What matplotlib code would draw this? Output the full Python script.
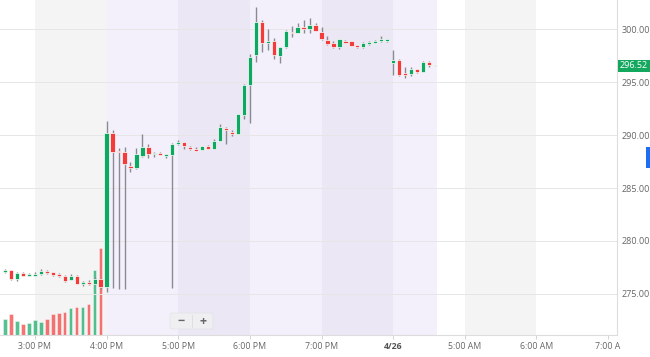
import matplotlib
matplotlib.use("Agg")
import matplotlib.pyplot as plt
from matplotlib.patches import Rectangle, FancyBboxPatch

plt.rcParams['font.family'] = ['Open Sans', 'DejaVu Sans']

# 5 minute candles, regular session end (2:35 PM - 3:55 PM)
reg_times = ["14:35", "14:40", "14:45", "14:50", "14:55", "15:00", "15:05", "15:10", "15:15",
             "15:20", "15:25", "15:30", "15:35", "15:40", "15:45", "15:50", "15:55"]
reg_open = [277.05, 277.26, 276.42, 277.00, 276.70, 276.73, 276.86, 277.17, 277.07,
            276.86, 276.70, 276.32, 276.70, 275.94, 276.16, 275.94, 276.39]
reg_high = [277.35, 277.30, 277.05, 277.05, 276.95, 277.10, 277.36, 277.26, 277.12,
            276.95, 276.75, 276.86, 276.75, 276.26, 276.35, 276.63, 276.45]
reg_low = [277.00, 276.32, 276.23, 276.65, 276.65, 276.70, 276.80, 276.90, 276.73,
           276.60, 276.16, 276.28, 275.90, 275.78, 275.88, 275.85, 275.50]
reg_close = [277.26, 276.42, 276.95, 276.70, 276.89, 276.89, 277.20, 276.95, 276.79,
             276.70, 276.23, 276.70, 275.94, 276.16, 275.92, 276.42, 275.63]
reg_volume = [157, 210, 143, 107, 117, 150, 133, 160, 210, 217, 233, 267, 283, 283, 310, 650, 867]  # thousands

# after hours 4:00 PM - 7:55 PM
post_times = ["16:00", "16:05", "16:10", "16:15", "16:20", "16:25", "16:30", "16:35", "16:40", "16:45",
              "16:50", "16:55", "17:00", "17:05", "17:10", "17:15", "17:20", "17:25", "17:30", "17:35",
              "17:40", "17:45", "17:50", "17:55", "18:00", "18:05", "18:10", "18:15", "18:20", "18:25",
              "18:30", "18:35", "18:40", "18:45", "18:50", "18:55", "19:00", "19:05", "19:10", "19:15",
              "19:20", "19:25", "19:30", "19:35", "19:40", "19:45", "19:50", "19:55"]
post_open = [275.69, 290.22, 288.52, 288.42, 287.08, 286.92, 288.05, 288.90, 288.18, 288.33,
             287.99, 288.11, 289.12, 289.34, 288.84, 288.68, 288.58, 288.93, 288.68, 289.43,
             290.69, 290.28, 290.09, 291.89, 294.72, 297.55, 300.69, 298.71, 298.90, 297.45,
             298.27, 299.75, 299.65, 300.16, 300.00, 300.38, 299.75, 298.96, 298.65, 298.27,
             298.90, 298.84, 298.46, 298.27, 298.58, 298.71, 298.84, 298.87]
post_high = [291.35, 290.47, 288.75, 288.90, 287.48, 288.80, 290.07, 289.12, 288.40, 288.36,
             288.20, 289.20, 289.53, 289.36, 288.95, 288.85, 289.00, 289.05, 289.60, 291.01,
             290.80, 290.50, 292.00, 294.80, 297.60, 302.10, 300.90, 299.97, 299.20, 298.30,
             299.90, 300.28, 300.54, 300.85, 301.07, 300.60, 300.22, 299.30, 298.90, 299.05,
             299.00, 298.90, 298.50, 298.80, 298.85, 298.95, 299.30, 299.10]
post_low = [275.22, 275.54, 275.50, 275.50, 286.54, 286.80, 287.90, 287.86, 287.95, 288.10,
            287.80, 275.54, 289.05, 288.65, 288.60, 288.50, 288.55, 288.65, 288.65, 289.40,
            289.12, 289.90, 290.05, 291.48, 291.10, 296.90, 297.86, 298.00, 297.14, 296.76,
            298.20, 299.22, 299.60, 299.65, 299.65, 299.80, 298.95, 298.50, 298.20, 298.10,
            298.65, 298.40, 298.20, 298.20, 298.50, 298.65, 298.80, 298.80]
post_close = [290.22, 288.42, 288.37, 287.26, 286.92, 288.18, 288.90, 288.20, 288.33, 288.14,
              288.18, 289.15, 289.31, 288.96, 288.68, 288.52, 288.96, 288.68, 289.43, 290.73,
              290.44, 290.09, 291.98, 294.72, 297.39, 300.69, 298.71, 298.90, 297.55, 298.27,
              299.84, 299.59, 300.16, 300.00, 300.38, 299.84, 299.03, 298.55, 298.27, 299.03,
              298.71, 298.43, 298.27, 298.65, 298.77, 298.90, 299.03, 299.03]

# pre market 4/26, 4:00 AM - 4:35 AM
pre_times = ["04:00", "04:05", "04:10", "04:15", "04:20", "04:25", "04:30", "04:35"]
pre_open = [296.82, 297.08, 295.82, 295.73, 296.20, 295.94, 296.89, 296.52]
pre_high = [298.02, 297.15, 296.44, 296.44, 296.25, 296.95, 297.00, 296.55]
pre_low = [295.66, 295.60, 295.35, 295.60, 295.85, 295.90, 296.45, 296.50]
pre_close = [297.10, 295.66, 295.66, 296.20, 295.92, 296.89, 296.58, 296.52]

last_price = 296.52

tick_pos = [0, 60, 120, 180, 240, 300, 360, 420, 480]
tick_labels = ["3:00 PM", "4:00 PM", "5:00 PM", "6:00 PM", "7:00 PM", "4/26", "5:00 AM", "6:00 AM", "7:00 A"]
price_ticks = [275, 280, 285, 290, 295, 300]

GREEN = "#0ea862"
RED = "#f23b3b"
WICK = "#8a8a90"


# minutes from 3:00 PM, overnight gap 8 PM -> 4 AM removed
def to_pos(t):
    h, m = map(int, t.split(":"))
    if h < 12:
        return 300 + (h - 4) * 60 + m
    return (h - 15) * 60 + m


x_all = [to_pos(t) for t in reg_times + post_times + pre_times]
o_all = reg_open + post_open + pre_open
h_all = reg_high + post_high + pre_high
l_all = reg_low + post_low + pre_low
c_all = reg_close + post_close + pre_close

fig = plt.figure(figsize=(6.5, 3.57), dpi=100)
ax2 = fig.add_axes([0, 22 / 357, 617 / 650, 335 / 357])
ax = fig.add_axes([0, 22 / 357, 617 / 650, 335 / 357], sharex=ax2)
ax.set_zorder(ax2.get_zorder() + 1)
ax.patch.set_visible(False)

# background hour shading
ax2.axvspan(0, 60, color="#f4f4f4", lw=0)
ax2.axvspan(60, 120, color="#f3f0fb", lw=0)
ax2.axvspan(120, 180, color="#ebe7f5", lw=0)
ax2.axvspan(180, 240, color="#f3f0fb", lw=0)
ax2.axvspan(240, 300, color="#ebe7f5", lw=0)
ax2.axvspan(300, 337, color="#f3f0fb", lw=0)
ax2.axvspan(360, 420, color="#f4f4f4", lw=0)

# volume
x_reg = [to_pos(t) for t in reg_times]
vcol = [GREEN if c >= o else RED for o, c in zip(reg_open, reg_close)]
ax2.bar(x_reg, reg_volume, width=2.8, color=vcol, alpha=0.7, edgecolor="white", linewidth=0.4)
ax2.set_ylim(0, 3350)
ax2.axis("off")

# grid
for p in price_ticks:
    ax.axhline(p, color="#e6e6e6", lw=0.7, zorder=0)

# candles
cols = []
for o, c in zip(o_all, c_all):
    if c > o:
        cols.append(GREEN)
    elif c < o:
        cols.append(RED)
    else:
        cols.append("#9a9a9a")
ax.vlines(x_all, l_all, h_all, color=WICK, lw=1.0, zorder=2)
bottoms = [min(o, c) for o, c in zip(o_all, c_all)]
heights = [max(abs(c - o), 0.08) for o, c in zip(o_all, c_all)]
ax.bar(x_all, heights, bottom=bottoms, width=3.6, color=cols, edgecolor="white", linewidth=0.5, zorder=3)

ax.set_xlim(-29.3, 487.5)
ax.set_ylim(271.13, 302.74)

ax.yaxis.tick_right()
ax.set_yticks(price_ticks)
ax.set_yticklabels(["%.2f" % p for p in price_ticks])
ax.tick_params(axis="y", length=0, pad=3, labelsize=6.5, labelcolor="#666666")
ax.set_xticks(tick_pos)
ax.set_xticklabels(tick_labels)
ax.tick_params(axis="x", length=3, width=0.6, color="#cccccc", pad=2, labelsize=6.3, labelcolor="#666666")
for lab in ax.get_xticklabels():
    if lab.get_text() == "4/26":
        lab.set_fontweight("bold")
        lab.set_color("#555555")

for s in ["top", "left"]:
    ax.spines[s].set_visible(False)
ax.spines["right"].set_color("#dddddd")
ax.spines["bottom"].set_color("#dddddd")
ax.spines["right"].set_linewidth(0.8)
ax.spines["bottom"].set_linewidth(0.8)

# last price tag
ax.annotate("%.2f" % last_price, xy=(1, last_price), xycoords=("axes fraction", "data"),
            xytext=(2, 0), textcoords="offset points", va="center", ha="left",
            fontsize=6.5, color="white",
            bbox=dict(boxstyle="square,pad=0.2", fc="#14a85f", ec="none"))

# zoom buttons
fig.patches.append(FancyBboxPatch((170 / 650, 28 / 357), 43 / 650, 16 / 357,
                                  boxstyle="round,pad=0,rounding_size=0.004",
                                  transform=fig.transFigure, fc="#efeff2", ec="#e2e2e6", lw=0.5))
fig.text(181 / 650, 36 / 357, "\u2212", ha="center", va="center", fontsize=9, color="#666666", fontweight="bold")
fig.text(203 / 650, 36 / 357, "+", ha="center", va="center", fontsize=9, color="#666666", fontweight="bold")
fig.add_artist(plt.Line2D([192 / 650, 192 / 650], [30 / 357, 42 / 357], transform=fig.transFigure,
                          color="#dcdce0", lw=0.6))

# blue side tab
fig.patches.append(Rectangle((646 / 650, 189 / 357), 4 / 650, 21 / 357, transform=fig.transFigure,
                             fc="#1d6ff2", ec="none"))

fig.savefig("out.png", dpi=100)
